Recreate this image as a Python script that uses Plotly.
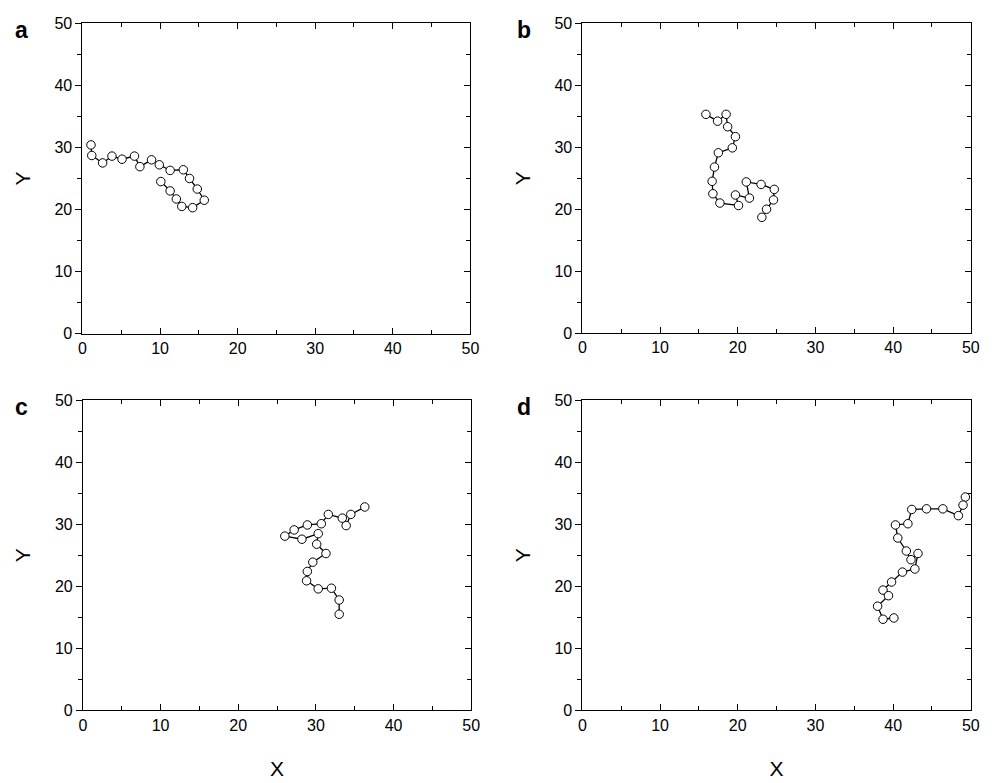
import plotly.graph_objects as go

# Panel a
ax = [1.1, 1.2, 2.6, 3.8, 5.1, 6.7, 7.4, 8.9, 9.9, 11.3, 13.0, 13.8, 14.8, 15.7, 14.2, 12.8, 12.1, 11.3, 10.1]
ay = [30.4, 28.7, 27.5, 28.6, 28.1, 28.6, 26.9, 28.0, 27.2, 26.3, 26.4, 25.0, 23.3, 21.5, 20.3, 20.5, 21.7, 23.0, 24.5]
# Panel b
bx = [15.9, 17.4, 18.5, 18.7, 19.7, 19.3, 17.5, 17.0, 16.7, 16.8, 17.7, 20.1, 19.7, 21.5, 21.1, 23.0, 24.7, 24.6, 23.7, 23.1]
by = [35.3, 34.2, 35.3, 33.3, 31.7, 29.9, 29.1, 26.8, 24.5, 22.5, 21.0, 20.6, 22.3, 21.8, 24.4, 24.0, 23.2, 21.5, 20.0, 18.7]
# Panel c
cx = [36.3, 34.5, 33.9, 33.4, 31.6, 30.7, 28.9, 27.2, 26.0, 28.2, 30.3, 30.1, 31.3, 29.6, 28.9, 28.8, 30.3, 32.0, 33.0, 33.0]
cy = [32.8, 31.6, 29.8, 31.0, 31.6, 30.1, 29.9, 29.1, 28.1, 27.6, 28.5, 26.8, 25.3, 23.9, 22.4, 20.9, 19.6, 19.7, 17.8, 15.5]
# Panel d
dx = [49.3, 49.0, 48.4, 46.4, 44.3, 42.4, 41.9, 40.3, 40.6, 41.7, 42.3, 43.2, 42.8, 41.2, 39.8, 38.7, 39.4, 38.0, 38.7, 40.1]
dy = [34.4, 33.1, 31.4, 32.5, 32.5, 32.4, 30.1, 29.9, 27.8, 25.7, 24.3, 25.3, 22.8, 22.3, 20.7, 19.4, 18.5, 16.8, 14.7, 14.9]

panel_labels = ["a", "b", "c", "d"]
series = [(ax, ay), (bx, by), (cx, cy), (dx, dy)]

W, H = 1003, 783
xdoms = [(79.5 / W, 472.5 / W), (586 / W, 979.5 / W), (80 / W, 473.3 / W), (586 / W, 979.5 / W)]
ydoms = [(1 - 333 / H, 1 - 15.5 / H), (1 - 332.5 / H, 1 - 15.5 / H),
         (1 - 718 / H, 1 - 401 / H), (1 - 718 / H, 1 - 401 / H)]

FONT = "Liberation Sans, Arial, sans-serif"
fig = go.Figure()

for i, (xs, ys) in enumerate(series):
    n = i + 1
    xa = "x" if n == 1 else f"x{n}"
    ya = "y" if n == 1 else f"y{n}"
    fig.add_trace(go.Scatter(
        x=xs, y=ys, xaxis=xa, yaxis=ya, mode="lines+markers",
        line=dict(color="black", width=1.3),
        marker=dict(symbol="circle", size=8.5, color="white", line=dict(color="black", width=1)),
        showlegend=False, hoverinfo="skip"))
    # overlay right-side y axis for inward ticks
    fig.add_trace(go.Scatter(x=[None], y=[None], xaxis=xa, yaxis=f"y{n + 4}",
                             showlegend=False, hoverinfo="skip"))

layout = dict(width=W, height=H, margin=dict(l=0, r=0, t=0, b=0),
              paper_bgcolor="white", plot_bgcolor="white",
              font=dict(family=FONT, color="black", size=16))

for i in range(4):
    n = i + 1
    xk = "xaxis" if n == 1 else f"xaxis{n}"
    yk = "yaxis" if n == 1 else f"yaxis{n}"
    ya_name = "y" if n == 1 else f"y{n}"
    xa_name = "x" if n == 1 else f"x{n}"
    layout[xk] = dict(domain=list(xdoms[i]), anchor=ya_name, range=[0, 50], dtick=10,
                      showgrid=False, zeroline=False, showline=True, linecolor="black", linewidth=1,
                      mirror="ticks", ticks="inside", ticklen=6, tickcolor="black",
                      minor=dict(dtick=5, ticks="inside", ticklen=4, tickcolor="black", showgrid=False),
                      tickfont=dict(size=16, family=FONT, color="black"),
                      title=dict(text="X", font=dict(size=21, family=FONT), standoff=28) if n >= 3 else None)
    layout[yk] = dict(domain=list(ydoms[i]), anchor=xa_name, range=[0, 50], dtick=10,
                      showgrid=False, zeroline=False, showline=True, linecolor="black", linewidth=1,
                      mirror=True, ticks="outside", ticklen=6, tickcolor="black",
                      minor=dict(dtick=5, ticks="outside", ticklen=4, tickcolor="black", showgrid=False),
                      tickfont=dict(size=16, family=FONT, color="black"),
                      title=dict(text="Y", font=dict(size=21, family=FONT), standoff=18))
    layout[f"yaxis{n + 4}"] = dict(overlaying=ya_name, side="right", anchor=xa_name, range=[0, 50], dtick=10,
                                   showgrid=False, zeroline=False, showline=False,
                                   ticks="inside", ticklen=6, tickcolor="black", showticklabels=False,
                                   minor=dict(dtick=5, ticks="inside", ticklen=4, tickcolor="black", showgrid=False))

fig.update_layout(**layout)

label_pos = [(18, 22), (527, 22), (18, 408), (527, 408)]
for lab, (px, py) in zip(panel_labels, label_pos):
    fig.add_annotation(text=f"<b>{lab}</b>", x=px / W, y=1 - py / H, xref="paper", yref="paper",
                       showarrow=False, font=dict(size=23, family=FONT, color="black"),
                       xanchor="center", yanchor="middle")

fig.write_html("out.html")
